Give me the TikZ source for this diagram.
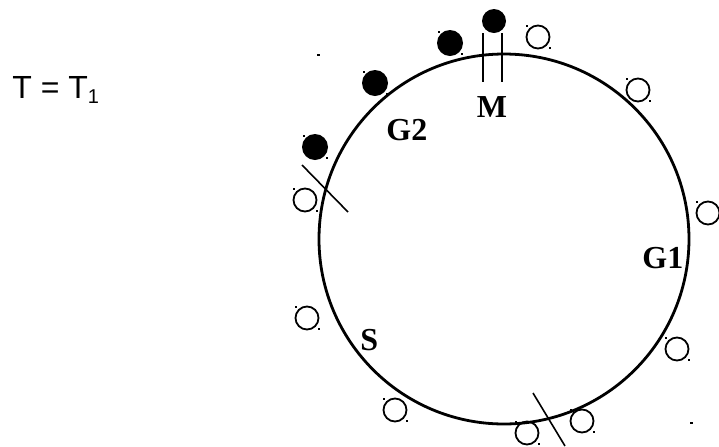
\documentclass[tikz,border=0pt]{standalone}
\usepackage{fontspec}
\setmainfont{Liberation Serif}
\setsansfont{Liberation Sans}
\usetikzlibrary{positioning}

\tikzset{ball/.style={circle, fill=black, inner sep=0pt, minimum size=13pt},
         ring/.style={circle, draw, line width=0.9pt, inner sep=0pt, minimum size=11.5pt},
         speck/.style={fill=black, inner sep=0pt, minimum width=1pt, minimum height=0.8pt},
         lbl/.style={font=\fontsize{16}{19}\selectfont\bfseries, inner sep=0pt}}

\begin{document}
\begin{tikzpicture}[x=0.5pt, y=-0.5pt]
\useasboundingbox (0,0) rectangle (719,446);
\coordinate (O) at (504,239);
\draw[line width=1.4pt] (O) circle[radius=185];
% temperature
\node[font=\sffamily\fontsize{16}{19}\selectfont, anchor=base west, inner sep=0pt]
  (temp) at (12,98) {T = T\textsubscript{\fontsize{10}{12}\selectfont 1}};
% labels on the ring
\node[lbl, anchor=base] (M)  at (492,117) {M};
\node[lbl, anchor=base west] (G2) at (386,140) {G2};
\node[lbl, anchor=base west] (G1) at (642,268) {G1};
\node[lbl, anchor=base west] (S)  at (360,350) {S};
% marker at M
\coordinate (m1a) at (483,33);  \coordinate (m1b) at (483,82);
\coordinate (m2a) at (502,33);  \coordinate (m2b) at (502,82);
\draw[line width=1pt] (m1a) -- (m1b) (m2a) -- (m2b);
% cuts
\coordinate (c1a) at (302,165); \coordinate (c1b) at (348,212);
\coordinate (c2a) at (533,393); \coordinate (c2b) at (565,446);
\draw[line width=0.8pt] (c1a) -- (c1b) (c2a) -- (c2b);
% filled balls
\foreach \n/\x/\y in {b1/315/147, b2/375/83, b3/450/43}{
  \node[ball] (\n) at (\x,\y) {};
  \node[speck] at ([shift={(-11,-11)}]\n) {};
  \node[speck] at ([shift={(12,11)}]\n) {};
}
\node[ball, minimum size=12pt] (b4) at (494,21) {};
% empty balls
\foreach \n/\x/\y in {r1/538/37, r2/638/90, r3/708/213, r4/677/349, r5/582/421,
                      r6/527/433, r7/395/410, r8/307/318, r9/305/200}{
  \node[ring] (\n) at (\x,\y) {};
  \node[speck] at ([shift={(-11,-11)}]\n) {};
  \node[speck] at ([shift={(12,11)}]\n) {};
}
% stray dots
\node[speck, minimum width=1.5pt, minimum height=1.2pt] (d1) at (318,55) {};
\node[speck, minimum width=1.5pt, minimum height=1.2pt] (d2) at (691,423) {};
\end{tikzpicture}
\end{document}
